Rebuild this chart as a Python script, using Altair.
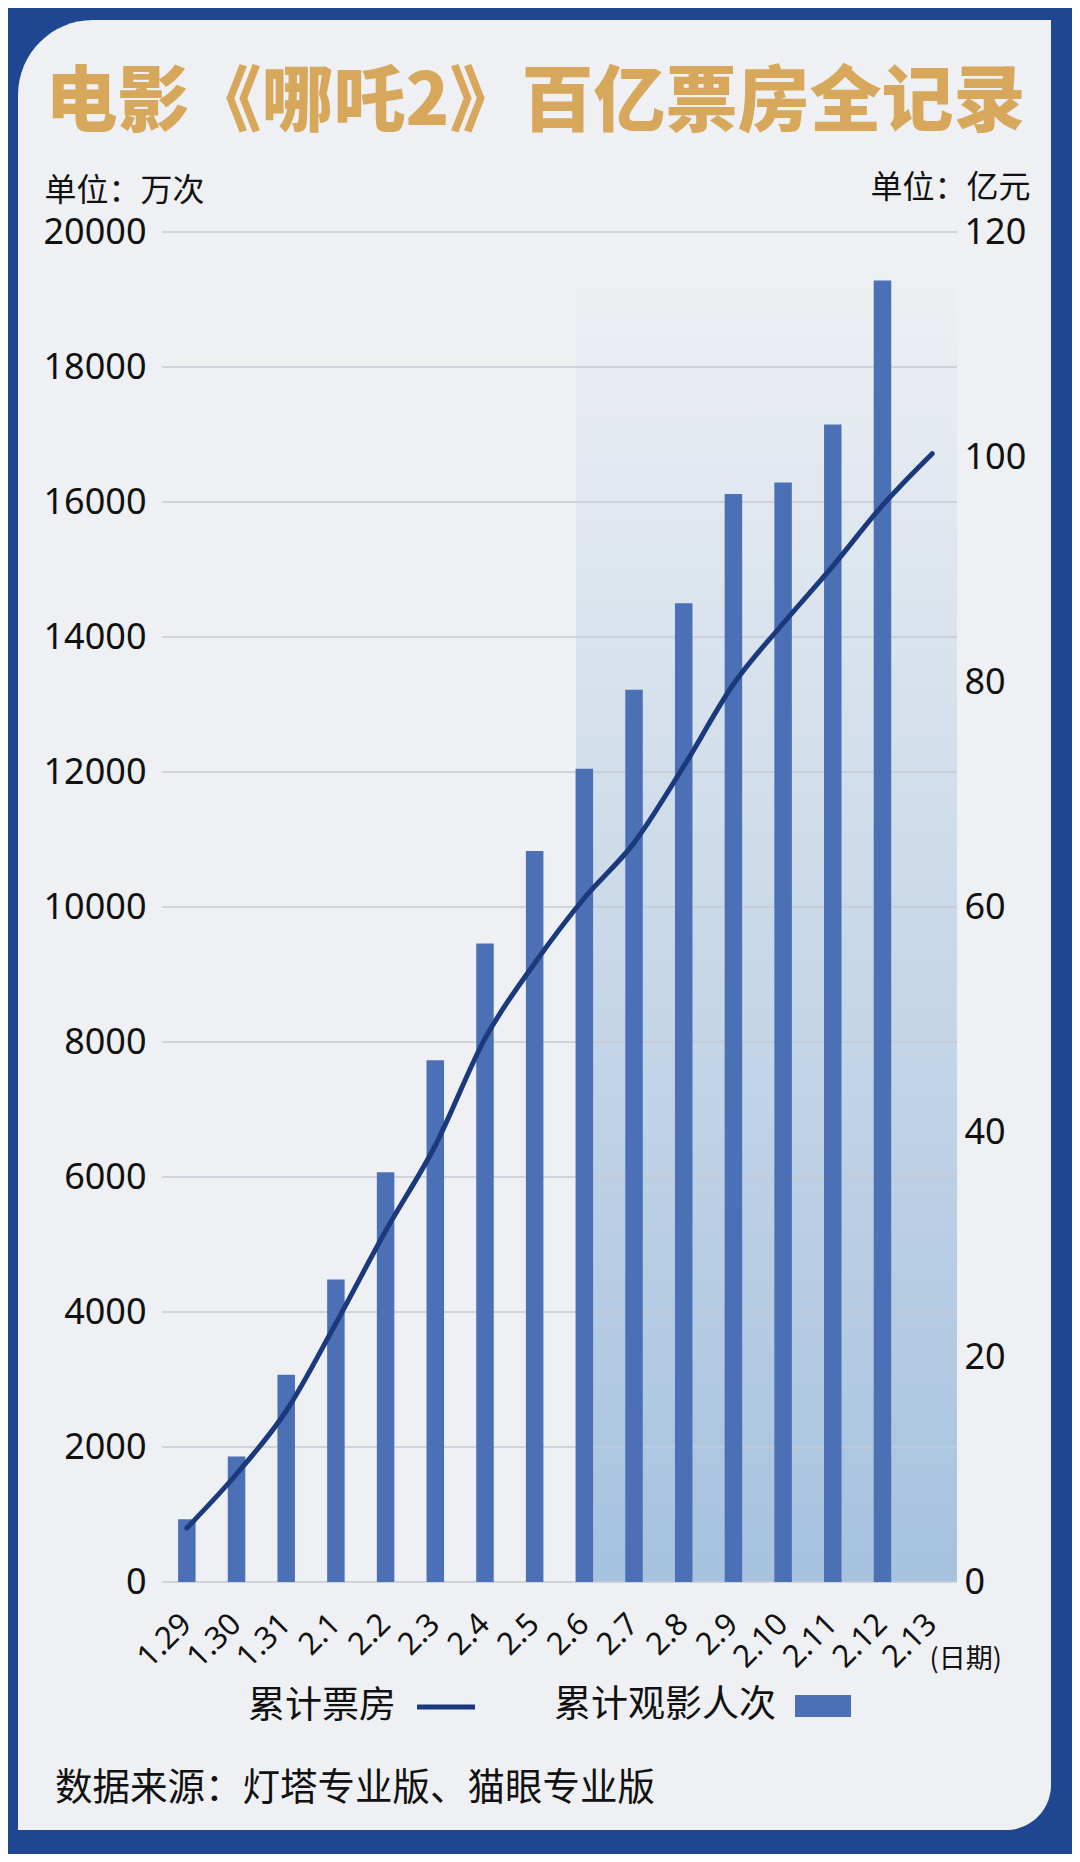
import altair as alt
import pandas as pd

# ---------------- data ----------------
dates = ["1.29", "1.30", "1.31", "2.1", "2.2", "2.3", "2.4", "2.5",
         "2.6", "2.7", "2.8", "2.9", "2.10", "2.11", "2.12", "2.13"]
# 累计观影人次 (万次) — no bar on 2.13
audience = [930, 1860, 3070, 4480, 6070, 7730, 9460, 10830,
            12050, 13220, 14500, 16120, 16290, 17150, 19280]
# 累计票房 (亿元)
box_office = [4.8, 9.6, 15.2, 23.0, 31.2, 38.8, 48.3, 55.0,
              60.8, 65.7, 72.5, 79.8, 85.2, 90.3, 95.7, 100.3]
left_ticks = [0, 2000, 4000, 6000, 8000, 10000, 12000, 14000, 16000, 18000, 20000]
right_ticks = [0, 20, 40, 60, 80, 100, 120]
shade_from, shade_to = "2.6", "2.13"

title_text = "电影《哪吒2》百亿票房全记录"
left_unit = "单位：万次"
right_unit = "单位：亿元"
x_unit = "(日期)"
line_name = "累计票房"
bar_name = "累计观影人次"
source_text = "数据来源：灯塔专业版、猫眼专业版"

# ---------------- styling ----------------
W, H = 795, 1350
CJK = "Noto Sans CJK SC"
NUM = "Noto Sans"
BAR = "#4b70b5"
LINE = "#1b3a7d"
CARD = "#eef0f3"
FRAME = "#1f4690"
GRID = "#c6cad3"
INK = "#111111"
GOLD = "#d7a85b"
SHADE_TOP = 19500

bar_df = pd.DataFrame({"date": dates[:len(audience)], "audience": audience, "series": bar_name})
line_df = pd.DataFrame({"date": dates, "box": box_office, "series": line_name})
grid_df = pd.DataFrame({"g": left_ticks})
shade_df = pd.DataFrame({"s": [shade_from], "e": [shade_to], "top": [SHADE_TOP], "bottom": [0]})

xs = alt.Scale(domain=dates, paddingInner=0, paddingOuter=0)
yl = alt.Scale(domain=[0, 20000], nice=False, zero=True)
yr = alt.Scale(domain=[0, 120], nice=False, zero=True)

X_AXIS = alt.Axis(
    title=x_unit, labelAngle=-45, labelAlign="right", labelBaseline="middle",
    labelPadding=37, labelFont=NUM, labelFontSize=31, labelColor=INK,
    labelOverlap=False, domain=False, ticks=False, tickSize=0, grid=False,
    titleX=767, titleY=77, titleAlign="left", titleBaseline="middle",
    titleAngle=0, titleFont=CJK, titleFontSize=27, titleFontWeight="normal",
    titleColor=INK, zindex=1)

YL_AXIS = alt.Axis(
    values=left_ticks, format="d", grid=False, domain=False, ticks=False,
    tickSize=0, labelFont=NUM, labelFontSize=36, labelColor=INK, labelPadding=16,
    title=left_unit, titleAngle=0, titleAlign="left", titleBaseline="middle",
    titleX=-118, titleY=-42, titleFont=CJK, titleFontSize=32,
    titleFontWeight="normal", titleColor=INK, zindex=1)

YR_AXIS = alt.Axis(
    orient="right", values=right_ticks, grid=False, domain=False, ticks=False,
    tickSize=0, labelFont=NUM, labelFontSize=36, labelColor=INK, labelPadding=7,
    title=right_unit, titleAngle=0, titleAlign="right", titleBaseline="middle",
    titleX=73, titleY=-45, titleFont=CJK, titleFontSize=32,
    titleFontWeight="normal", titleColor=INK, zindex=1)

card = alt.Chart(pd.DataFrame({"k": [0]})).mark_rect(
    color=CARD, cornerRadiusTopLeft=75, cornerRadiusBottomRight=45
).encode(x=alt.value(-144), x2=alt.value(889), y=alt.value(-212), y2=alt.value(1598))

shade = alt.Chart(shade_df).mark_rect(
    fill=alt.Gradient(
        gradient="linear",
        stops=[alt.GradientStop(color=CARD, offset=0),
               alt.GradientStop(color="#a6c2df", offset=1)],
        x1=0, x2=0, y1=0, y2=1,
    )
).encode(
    x=alt.X("s:N", scale=xs, sort=dates, axis=X_AXIS, bandPosition=0.33),
    x2=alt.X2("e", bandPosition=1),
    y=alt.Y("top:Q", scale=yl, axis=YL_AXIS),
    y2=alt.Y2("bottom:Q"),
)

grid = alt.Chart(grid_df).mark_rule(color=GRID, strokeWidth=1.5).encode(
    y=alt.Y("g:Q", scale=yl, axis=YL_AXIS)
)

bars = alt.Chart(bar_df).mark_bar(size=17.5).encode(
    x=alt.X("date:N", scale=xs, sort=dates, axis=X_AXIS),
    y=alt.Y("audience:Q", scale=yl, axis=YL_AXIS),
    fill=alt.Fill("series:N", scale=alt.Scale(range=[BAR]), legend=alt.Legend(
        orient="none", legendX=392, legendY=1446,
        title=bar_name, titleOrient="left", titleAnchor="start",
        titleBaseline="line-top", titleLineHeight=56,
        titlePadding=19, titleFont=CJK, titleFontSize=37, titleFontWeight="normal",
        titleColor=INK, titleLimit=600,
        symbolType="M-1,-0.39H1V0.39H-1Z", symbolSize=3136, symbolStrokeWidth=0,
        symbolOpacity=1, labelExpr="''", labelFontSize=1, padding=0)),
)

line = alt.Chart(line_df).mark_line(interpolate="monotone", strokeWidth=5, strokeCap="round").encode(
    x=alt.X("date:N", scale=xs, sort=dates, axis=X_AXIS),
    y=alt.Y("box:Q", scale=yr, axis=YR_AXIS),
    stroke=alt.Stroke("series:N", scale=alt.Scale(range=[LINE]), legend=alt.Legend(
        orient="none", legendX=86, legendY=1443.5,
        title=line_name, titleOrient="left", titleAnchor="start",
        titleBaseline="line-top", titleLineHeight=63,
        titlePadding=18.5, titleFont=CJK, titleFontSize=37, titleFontWeight="normal",
        titleColor=INK, titleLimit=600,
        symbolType="stroke", symbolSize=3364, symbolStrokeWidth=5,
        labelExpr="''", labelFontSize=1, padding=0)),
)

source = alt.Chart(pd.DataFrame({"t": [source_text]})).mark_text(
    align="left", baseline="middle", font=CJK, fontSize=37.5, color=INK
).encode(text="t:N", x=alt.value(-107), y=alt.value(1557))

left_layer = alt.layer(shade, grid, bars)

chart = alt.layer(card, left_layer, line, source).resolve_scale(
    y="independent", fill="independent", stroke="independent"
).properties(
    width=W, height=H,
    padding={"left": 154, "top": 224, "right": 115, "bottom": 272},
    autosize=alt.AutoSizeParams(type="none"),
    background=FRAME,
    title=alt.TitleParams(
        text=title_text, font=CJK, fontSize=72, fontWeight=900, color=GOLD,
        anchor="middle", dx=-24, dy=120, offset=0,
    ),
).configure_view(stroke=None)

chart.save("out.html", embed_options={"renderer": "svg", "actions": False})
